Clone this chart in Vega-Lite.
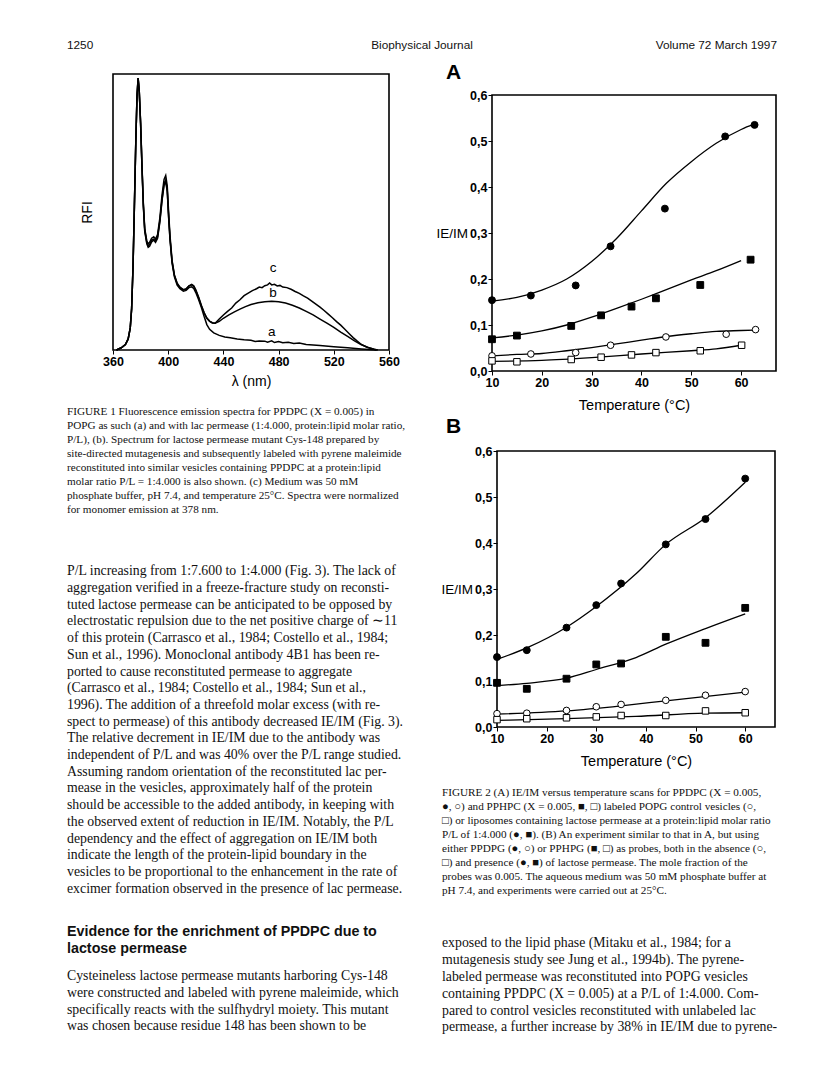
{
"$schema": "https://vega.github.io/schema/vega-lite/v6.json",
"background": "white",
"padding": {"left": 67, "top": 38, "right": 0, "bottom": 0},
"autosize": {"type": "pad"},
"config": {
  "view": {"stroke": null},
  "font": "Liberation Sans",
  "axis": {"grid": false, "domainColor": "#000", "tickColor": "#000", "labelColor": "#000", "titleColor": "#000", "labelFont": "Liberation Sans", "titleFont": "Liberation Sans", "titleFontWeight": "normal", "labelFlush": false, "labelOverlap": false},
  "text": {"color": "#111"}
},
"datasets": {
  "header": [
    {"slot": "left", "text": "1250"},
    {"slot": "center", "text": "Biophysical Journal"},
    {"slot": "right", "text": "Volume 72   March 1997"}
  ],
  "frame1": [{"x0": 360, "x1": 560, "y0": 0, "y1": 1}],
  "frame2": [{"x0": 10, "x1": 67, "y0": 0, "y1": 0.6}],
  "frame3": [{"x0": 10, "x1": 66, "y0": 0, "y1": 0.6}],
  "spectra": [
    {"curve":"a","nm":362.5,"rfi":0},{"curve":"a","nm":366,"rfi":0.008},{"curve":"a","nm":369,"rfi":0.02},{"curve":"a","nm":371,"rfi":0.04},{"curve":"a","nm":372.5,"rfi":0.08},{"curve":"a","nm":373.5,"rfi":0.15},{"curve":"a","nm":374.5,"rfi":0.3},{"curve":"a","nm":375.5,"rfi":0.52},{"curve":"a","nm":376.5,"rfi":0.75},{"curve":"a","nm":377.4,"rfi":0.92},{"curve":"a","nm":378.2,"rfi":0.985},{"curve":"a","nm":379,"rfi":0.94},{"curve":"a","nm":380,"rfi":0.82},{"curve":"a","nm":381,"rfi":0.66},{"curve":"a","nm":382,"rfi":0.52},{"curve":"a","nm":383,"rfi":0.43},{"curve":"a","nm":384.5,"rfi":0.385},{"curve":"a","nm":385.5,"rfi":0.372},{"curve":"a","nm":386.5,"rfi":0.376},{"curve":"a","nm":388,"rfi":0.392},{"curve":"a","nm":389.5,"rfi":0.398},{"curve":"a","nm":390.8,"rfi":0.39},{"curve":"a","nm":392.3,"rfi":0.405},{"curve":"a","nm":394,"rfi":0.465},{"curve":"a","nm":395.5,"rfi":0.54},{"curve":"a","nm":397,"rfi":0.597},{"curve":"a","nm":398.2,"rfi":0.61},{"curve":"a","nm":399.3,"rfi":0.575},{"curve":"a","nm":400.3,"rfi":0.48},{"curve":"a","nm":401.3,"rfi":0.4},{"curve":"a","nm":402.8,"rfi":0.315},{"curve":"a","nm":404.5,"rfi":0.265},{"curve":"a","nm":406.5,"rfi":0.235},{"curve":"a","nm":408.5,"rfi":0.222},{"curve":"a","nm":411,"rfi":0.213},{"curve":"a","nm":413,"rfi":0.216},{"curve":"a","nm":415,"rfi":0.226},{"curve":"a","nm":417,"rfi":0.229},{"curve":"a","nm":418.5,"rfi":0.223},{"curve":"a","nm":420,"rfi":0.208},{"curve":"a","nm":422,"rfi":0.183},{"curve":"a","nm":424,"rfi":0.155},{"curve":"a","nm":426,"rfi":0.122},{"curve":"a","nm":428,"rfi":0.092},{"curve":"a","nm":430,"rfi":0.075},{"curve":"a","nm":433,"rfi":0.062},{"curve":"a","nm":437,"rfi":0.053},{"curve":"a","nm":441,"rfi":0.047},{"curve":"a","nm":445,"rfi":0.044},{"curve":"a","nm":450,"rfi":0.04},{"curve":"a","nm":455,"rfi":0.037},{"curve":"a","nm":460,"rfi":0.035},{"curve":"a","nm":463,"rfi":0.031},{"curve":"a","nm":466,"rfi":0.033},{"curve":"a","nm":470,"rfi":0.032},{"curve":"a","nm":472,"rfi":0.028},{"curve":"a","nm":475,"rfi":0.033},{"curve":"a","nm":477,"rfi":0.027},{"curve":"a","nm":480,"rfi":0.031},{"curve":"a","nm":483,"rfi":0.026},{"curve":"a","nm":487,"rfi":0.028},{"curve":"a","nm":491,"rfi":0.024},{"curve":"a","nm":495,"rfi":0.025},{"curve":"a","nm":500,"rfi":0.02},{"curve":"a","nm":510,"rfi":0.016},{"curve":"a","nm":520,"rfi":0.012},{"curve":"a","nm":530,"rfi":0.008},{"curve":"a","nm":540,"rfi":0.004},{"curve":"a","nm":551,"rfi":0},
    {"curve":"b","nm":362.5,"rfi":0},{"curve":"b","nm":366,"rfi":0.008},{"curve":"b","nm":369,"rfi":0.02},{"curve":"b","nm":371,"rfi":0.04},{"curve":"b","nm":372.5,"rfi":0.08},{"curve":"b","nm":373.5,"rfi":0.15},{"curve":"b","nm":374.5,"rfi":0.3},{"curve":"b","nm":375.5,"rfi":0.52},{"curve":"b","nm":376.5,"rfi":0.75},{"curve":"b","nm":377.4,"rfi":0.92},{"curve":"b","nm":378.2,"rfi":0.985},{"curve":"b","nm":379,"rfi":0.94},{"curve":"b","nm":380,"rfi":0.82},{"curve":"b","nm":381,"rfi":0.665},{"curve":"b","nm":382,"rfi":0.525},{"curve":"b","nm":383,"rfi":0.435},{"curve":"b","nm":384.5,"rfi":0.39},{"curve":"b","nm":385.5,"rfi":0.378},{"curve":"b","nm":386.5,"rfi":0.382},{"curve":"b","nm":388,"rfi":0.398},{"curve":"b","nm":389.5,"rfi":0.402},{"curve":"b","nm":390.8,"rfi":0.396},{"curve":"b","nm":392.3,"rfi":0.41},{"curve":"b","nm":394,"rfi":0.47},{"curve":"b","nm":395.5,"rfi":0.545},{"curve":"b","nm":397,"rfi":0.603},{"curve":"b","nm":398.2,"rfi":0.615},{"curve":"b","nm":399.3,"rfi":0.58},{"curve":"b","nm":400.3,"rfi":0.485},{"curve":"b","nm":401.3,"rfi":0.405},{"curve":"b","nm":402.8,"rfi":0.32},{"curve":"b","nm":404.5,"rfi":0.27},{"curve":"b","nm":406.5,"rfi":0.24},{"curve":"b","nm":408.5,"rfi":0.226},{"curve":"b","nm":411,"rfi":0.218},{"curve":"b","nm":413,"rfi":0.222},{"curve":"b","nm":415,"rfi":0.232},{"curve":"b","nm":417,"rfi":0.236},{"curve":"b","nm":418.5,"rfi":0.23},{"curve":"b","nm":420,"rfi":0.215},{"curve":"b","nm":422,"rfi":0.19},{"curve":"b","nm":424,"rfi":0.16},{"curve":"b","nm":426,"rfi":0.135},{"curve":"b","nm":428,"rfi":0.115},{"curve":"b","nm":430,"rfi":0.104},{"curve":"b","nm":432,"rfi":0.098},{"curve":"b","nm":434,"rfi":0.097},{"curve":"b","nm":437,"rfi":0.104},{"curve":"b","nm":440,"rfi":0.115},{"curve":"b","nm":444,"rfi":0.127},{"curve":"b","nm":448,"rfi":0.138},{"curve":"b","nm":452,"rfi":0.148},{"curve":"b","nm":456,"rfi":0.157},{"curve":"b","nm":460,"rfi":0.165},{"curve":"b","nm":465,"rfi":0.171},{"curve":"b","nm":470,"rfi":0.175},{"curve":"b","nm":475,"rfi":0.177},{"curve":"b","nm":480,"rfi":0.175},{"curve":"b","nm":485,"rfi":0.17},{"curve":"b","nm":490,"rfi":0.162},{"curve":"b","nm":495,"rfi":0.152},{"curve":"b","nm":500,"rfi":0.14},{"curve":"b","nm":505,"rfi":0.127},{"curve":"b","nm":510,"rfi":0.112},{"curve":"b","nm":515,"rfi":0.097},{"curve":"b","nm":520,"rfi":0.082},{"curve":"b","nm":525,"rfi":0.065},{"curve":"b","nm":530,"rfi":0.049},{"curve":"b","nm":535,"rfi":0.033},{"curve":"b","nm":540,"rfi":0.019},{"curve":"b","nm":545,"rfi":0.009},{"curve":"b","nm":551,"rfi":0},
    {"curve":"c","nm":362.5,"rfi":0},{"curve":"c","nm":366,"rfi":0.008},{"curve":"c","nm":369,"rfi":0.02},{"curve":"c","nm":371,"rfi":0.04},{"curve":"c","nm":372.5,"rfi":0.08},{"curve":"c","nm":373.5,"rfi":0.15},{"curve":"c","nm":374.5,"rfi":0.3},{"curve":"c","nm":375.5,"rfi":0.52},{"curve":"c","nm":376.5,"rfi":0.75},{"curve":"c","nm":377.4,"rfi":0.92},{"curve":"c","nm":378.2,"rfi":0.985},{"curve":"c","nm":379,"rfi":0.94},{"curve":"c","nm":380,"rfi":0.825},{"curve":"c","nm":381,"rfi":0.67},{"curve":"c","nm":382,"rfi":0.53},{"curve":"c","nm":383,"rfi":0.44},{"curve":"c","nm":384.5,"rfi":0.395},{"curve":"c","nm":385.5,"rfi":0.385},{"curve":"c","nm":386.5,"rfi":0.39},{"curve":"c","nm":388,"rfi":0.405},{"curve":"c","nm":389.5,"rfi":0.41},{"curve":"c","nm":390.8,"rfi":0.402},{"curve":"c","nm":392.3,"rfi":0.418},{"curve":"c","nm":394,"rfi":0.48},{"curve":"c","nm":395.5,"rfi":0.56},{"curve":"c","nm":397,"rfi":0.618},{"curve":"c","nm":398.2,"rfi":0.632},{"curve":"c","nm":399.3,"rfi":0.595},{"curve":"c","nm":400.3,"rfi":0.5},{"curve":"c","nm":401.3,"rfi":0.415},{"curve":"c","nm":402.8,"rfi":0.325},{"curve":"c","nm":404.5,"rfi":0.272},{"curve":"c","nm":406.5,"rfi":0.242},{"curve":"c","nm":408.5,"rfi":0.228},{"curve":"c","nm":411,"rfi":0.219},{"curve":"c","nm":413,"rfi":0.22},{"curve":"c","nm":415,"rfi":0.232},{"curve":"c","nm":417,"rfi":0.238},{"curve":"c","nm":418.5,"rfi":0.233},{"curve":"c","nm":420,"rfi":0.218},{"curve":"c","nm":422,"rfi":0.192},{"curve":"c","nm":424,"rfi":0.162},{"curve":"c","nm":426,"rfi":0.136},{"curve":"c","nm":428,"rfi":0.116},{"curve":"c","nm":430,"rfi":0.105},{"curve":"c","nm":432,"rfi":0.099},{"curve":"c","nm":434,"rfi":0.097},{"curve":"c","nm":437,"rfi":0.112},{"curve":"c","nm":440,"rfi":0.127},{"curve":"c","nm":443,"rfi":0.14},{"curve":"c","nm":446,"rfi":0.152},{"curve":"c","nm":449,"rfi":0.17},{"curve":"c","nm":452,"rfi":0.182},{"curve":"c","nm":455,"rfi":0.197},{"curve":"c","nm":458,"rfi":0.206},{"curve":"c","nm":461,"rfi":0.215},{"curve":"c","nm":464,"rfi":0.222},{"curve":"c","nm":466,"rfi":0.228},{"curve":"c","nm":468,"rfi":0.226},{"curve":"c","nm":470,"rfi":0.233},{"curve":"c","nm":472,"rfi":0.236},{"curve":"c","nm":473.5,"rfi":0.243},{"curve":"c","nm":475,"rfi":0.236},{"curve":"c","nm":477,"rfi":0.238},{"curve":"c","nm":479,"rfi":0.232},{"curve":"c","nm":481,"rfi":0.234},{"curve":"c","nm":483,"rfi":0.228},{"curve":"c","nm":486,"rfi":0.226},{"curve":"c","nm":489,"rfi":0.22},{"curve":"c","nm":492,"rfi":0.212},{"curve":"c","nm":495,"rfi":0.205},{"curve":"c","nm":498,"rfi":0.196},{"curve":"c","nm":501,"rfi":0.188},{"curve":"c","nm":504,"rfi":0.177},{"curve":"c","nm":507,"rfi":0.166},{"curve":"c","nm":510,"rfi":0.155},{"curve":"c","nm":513,"rfi":0.143},{"curve":"c","nm":516,"rfi":0.13},{"curve":"c","nm":519,"rfi":0.117},{"curve":"c","nm":522,"rfi":0.103},{"curve":"c","nm":525,"rfi":0.09},{"curve":"c","nm":528,"rfi":0.075},{"curve":"c","nm":531,"rfi":0.06},{"curve":"c","nm":534,"rfi":0.045},{"curve":"c","nm":537,"rfi":0.032},{"curve":"c","nm":540,"rfi":0.02},{"curve":"c","nm":544,"rfi":0.01},{"curve":"c","nm":549,"rfi":0.003},{"curve":"c","nm":552,"rfi":0}
  ],
  "speclabels": [
    {"lab": "c", "nm": 476, "rfi": 0.297},
    {"lab": "b", "nm": 476, "rfi": 0.206},
    {"lab": "a", "nm": 475, "rfi": 0.067}
  ],
  "A_pts": [
    {"s":"fc","t":10,"v":0.154},{"s":"fc","t":17.8,"v":0.164},{"s":"fc","t":26.8,"v":0.186},{"s":"fc","t":33.8,"v":0.271},{"s":"fc","t":44.7,"v":0.353},{"s":"fc","t":56.8,"v":0.51},{"s":"fc","t":62.7,"v":0.535},
    {"s":"fs","t":10,"v":0.069},{"s":"fs","t":15,"v":0.077},{"s":"fs","t":25.9,"v":0.098},{"s":"fs","t":31.9,"v":0.121},{"s":"fs","t":38,"v":0.14},{"s":"fs","t":42.9,"v":0.158},{"s":"fs","t":51.8,"v":0.187},{"s":"fs","t":61.9,"v":0.242},
    {"s":"oc","t":10,"v":0.033},{"s":"oc","t":17.8,"v":0.037},{"s":"oc","t":26.8,"v":0.04},{"s":"oc","t":33.8,"v":0.056},{"s":"oc","t":44.9,"v":0.074},{"s":"oc","t":57,"v":0.08},{"s":"oc","t":62.9,"v":0.09},
    {"s":"os","t":10,"v":0.022},{"s":"os","t":15,"v":0.02},{"s":"os","t":25.9,"v":0.025},{"s":"os","t":31.9,"v":0.03},{"s":"os","t":38,"v":0.035},{"s":"os","t":42.9,"v":0.04},{"s":"os","t":51.8,"v":0.044},{"s":"os","t":60.1,"v":0.056}
  ],
  "A_fit": [
    {"s":"fc","t":10,"v":0.152},{"s":"fc","t":15,"v":0.16},{"s":"fc","t":20,"v":0.176},{"s":"fc","t":25,"v":0.2},{"s":"fc","t":30,"v":0.238},{"s":"fc","t":35,"v":0.288},{"s":"fc","t":40,"v":0.348},{"s":"fc","t":45,"v":0.408},{"s":"fc","t":50,"v":0.455},{"s":"fc","t":55,"v":0.495},{"s":"fc","t":60,"v":0.525},{"s":"fc","t":62.7,"v":0.537},
    {"s":"fs","t":10,"v":0.072},{"s":"fs","t":15,"v":0.078},{"s":"fs","t":20,"v":0.087},{"s":"fs","t":25,"v":0.1},{"s":"fs","t":30,"v":0.117},{"s":"fs","t":35,"v":0.136},{"s":"fs","t":40,"v":0.156},{"s":"fs","t":45,"v":0.177},{"s":"fs","t":50,"v":0.198},{"s":"fs","t":55,"v":0.218},{"s":"fs","t":60,"v":0.24},
    {"s":"oc","t":10,"v":0.033},{"s":"oc","t":15,"v":0.036},{"s":"oc","t":20,"v":0.038},{"s":"oc","t":25,"v":0.044},{"s":"oc","t":30,"v":0.051},{"s":"oc","t":35,"v":0.059},{"s":"oc","t":40,"v":0.067},{"s":"oc","t":45,"v":0.075},{"s":"oc","t":50,"v":0.081},{"s":"oc","t":55,"v":0.086},{"s":"oc","t":60,"v":0.088},{"s":"oc","t":62.7,"v":0.089},
    {"s":"os","t":10,"v":0.021},{"s":"os","t":20,"v":0.023},{"s":"os","t":30,"v":0.029},{"s":"os","t":40,"v":0.037},{"s":"os","t":50,"v":0.044},{"s":"os","t":55,"v":0.048},{"s":"os","t":60,"v":0.056}
  ],
  "B_pts": [
    {"s":"fc","t":10,"v":0.152},{"s":"fc","t":16,"v":0.167},{"s":"fc","t":24,"v":0.216},{"s":"fc","t":30,"v":0.265},{"s":"fc","t":35,"v":0.312},{"s":"fc","t":44,"v":0.397},{"s":"fc","t":52,"v":0.452},{"s":"fc","t":60,"v":0.54},
    {"s":"fs","t":10,"v":0.096},{"s":"fs","t":16,"v":0.083},{"s":"fs","t":24,"v":0.105},{"s":"fs","t":30,"v":0.136},{"s":"fs","t":35,"v":0.138},{"s":"fs","t":44,"v":0.196},{"s":"fs","t":52,"v":0.183},{"s":"fs","t":60,"v":0.259},
    {"s":"oc","t":10,"v":0.029},{"s":"oc","t":16,"v":0.03},{"s":"oc","t":24,"v":0.036},{"s":"oc","t":30,"v":0.044},{"s":"oc","t":35,"v":0.049},{"s":"oc","t":44,"v":0.058},{"s":"oc","t":52,"v":0.069},{"s":"oc","t":60,"v":0.077},
    {"s":"os","t":10,"v":0.016},{"s":"os","t":16,"v":0.018},{"s":"os","t":24,"v":0.02},{"s":"os","t":30,"v":0.022},{"s":"os","t":35,"v":0.025},{"s":"os","t":44,"v":0.025},{"s":"os","t":52,"v":0.035},{"s":"os","t":60,"v":0.031}
  ],
  "B_fit": [
    {"s":"fc","t":10,"v":0.147},{"s":"fc","t":16,"v":0.172},{"s":"fc","t":24,"v":0.217},{"s":"fc","t":30,"v":0.262},{"s":"fc","t":38,"v":0.333},{"s":"fc","t":44,"v":0.397},{"s":"fc","t":52,"v":0.455},{"s":"fc","t":60,"v":0.532},
    {"s":"fs","t":10,"v":0.09},{"s":"fs","t":16,"v":0.095},{"s":"fs","t":24,"v":0.106},{"s":"fs","t":30,"v":0.125},{"s":"fs","t":38,"v":0.151},{"s":"fs","t":44,"v":0.18},{"s":"fs","t":52,"v":0.214},{"s":"fs","t":60,"v":0.246},
    {"s":"oc","t":10,"v":0.028},{"s":"oc","t":24,"v":0.035},{"s":"oc","t":35,"v":0.046},{"s":"oc","t":44,"v":0.057},{"s":"oc","t":60,"v":0.076},
    {"s":"os","t":10,"v":0.0145},{"s":"os","t":24,"v":0.018},{"s":"os","t":38,"v":0.023},{"s":"os","t":52,"v":0.03},{"s":"os","t":60,"v":0.031}
  ],
  "cap1": [
    {"line":0,"text":"FIGURE 1    Fluorescence emission spectra for PPDPC (X = 0.005) in"},
    {"line":1,"text":"POPG as such (a) and with lac permease (1:4.000, protein:lipid molar ratio,"},
    {"line":2,"text":"P/L), (b). Spectrum for lactose permease mutant Cys-148 prepared by"},
    {"line":3,"text":"site-directed mutagenesis and subsequently labeled with pyrene maleimide"},
    {"line":4,"text":"reconstituted into similar vesicles containing PPDPC at a protein:lipid"},
    {"line":5,"text":"molar ratio P/L = 1:4.000 is also shown. (c) Medium was 50 mM"},
    {"line":6,"text":"phosphate buffer, pH 7.4, and temperature 25°C. Spectra were normalized"},
    {"line":7,"text":"for monomer emission at 378 nm."}
  ],
  "body1": [
    {"line":0,"text":"P/L increasing from 1:7.600 to 1:4.000 (Fig. 3). The lack of"},
    {"line":1,"text":"aggregation verified in a freeze-fracture study on reconsti-"},
    {"line":2,"text":"tuted lactose permease can be anticipated to be opposed by"},
    {"line":3,"text":"electrostatic repulsion due to the net positive charge of ∼11"},
    {"line":4,"text":"of this protein (Carrasco et al., 1984; Costello et al., 1984;"},
    {"line":5,"text":"Sun et al., 1996). Monoclonal antibody 4B1 has been re-"},
    {"line":6,"text":"ported to cause reconstituted permease to aggregate"},
    {"line":7,"text":"(Carrasco et al., 1984; Costello et al., 1984; Sun et al.,"},
    {"line":8,"text":"1996). The addition of a threefold molar excess (with re-"},
    {"line":9,"text":"spect to permease) of this antibody decreased IE/IM (Fig. 3)."},
    {"line":10,"text":"The relative decrement in IE/IM due to the antibody was"},
    {"line":11,"text":"independent of P/L and was 40% over the P/L range studied."},
    {"line":12,"text":"Assuming random orientation of the reconstituted lac per-"},
    {"line":13,"text":"mease in the vesicles, approximately half of the protein"},
    {"line":14,"text":"should be accessible to the added antibody, in keeping with"},
    {"line":15,"text":"the observed extent of reduction in IE/IM. Notably, the P/L"},
    {"line":16,"text":"dependency and the effect of aggregation on IE/IM both"},
    {"line":17,"text":"indicate the length of the protein-lipid boundary in the"},
    {"line":18,"text":"vesicles to be proportional to the enhancement in the rate of"},
    {"line":19,"text":"excimer formation observed in the presence of lac permease."}
  ],
  "heading": [
    {"line":0,"text":"Evidence for the enrichment of PPDPC due to"},
    {"line":1,"text":"lactose permease"}
  ],
  "body2": [
    {"line":0,"text":"Cysteineless lactose permease mutants harboring Cys-148"},
    {"line":1,"text":"were constructed and labeled with pyrene maleimide, which"},
    {"line":2,"text":"specifically reacts with the sulfhydryl moiety. This mutant"},
    {"line":3,"text":"was chosen because residue 148 has been shown to be"}
  ],
  "cap2": [
    {"line":0,"text":"FIGURE 2    (A) IE/IM versus temperature scans for PPDPC (X = 0.005,"},
    {"line":1,"text":"●, ○) and PPHPC (X = 0.005, ■, □) labeled POPG control vesicles (○,"},
    {"line":2,"text":"□) or liposomes containing lactose permease at a protein:lipid molar ratio"},
    {"line":3,"text":"P/L of 1:4.000 (●, ■). (B) An experiment similar to that in A, but using"},
    {"line":4,"text":"either PPDPG (●, ○) or PPHPG (■, □) as probes, both in the absence (○,"},
    {"line":5,"text":"□) and presence (●, ■) of lactose permease. The mole fraction of the"},
    {"line":6,"text":"probes was 0.005. The aqueous medium was 50 mM phosphate buffer at"},
    {"line":7,"text":"pH 7.4, and experiments were carried out at 25°C."}
  ],
  "body3": [
    {"line":0,"text":"exposed to the lipid phase (Mitaku et al., 1984; for a"},
    {"line":1,"text":"mutagenesis study see Jung et al., 1994b). The pyrene-"},
    {"line":2,"text":"labeled permease was reconstituted into POPG vesicles"},
    {"line":3,"text":"containing PPDPC (X = 0.005) at a P/L of 1:4.000. Com-"},
    {"line":4,"text":"pared to control vesicles reconstituted with unlabeled lac"},
    {"line":5,"text":"permease, a further increase by 38% in IE/IM due to pyrene-"}
  ]
},
"spacing": 0,
"vconcat": [
  {
    "width": 710, "height": 14,
    "data": {"name": "header"},
    "encoding": {
      "x": {"field": "slot", "type": "nominal", "axis": null, "scale": {"type": "point", "domain": ["left", "center", "right"], "padding": 0}},
      "text": {"field": "text"}
    },
    "layer": [
      {"transform": [{"filter": "datum.slot === 'left'"}], "mark": {"type": "text", "align": "left", "baseline": "middle", "font": "Liberation Sans", "fontSize": 11.8}},
      {"transform": [{"filter": "datum.slot === 'center'"}], "mark": {"type": "text", "align": "center", "baseline": "middle", "font": "Liberation Sans", "fontSize": 11.8}},
      {"transform": [{"filter": "datum.slot === 'right'"}], "mark": {"type": "text", "align": "right", "baseline": "middle", "font": "Liberation Sans", "fontSize": 11.8}}
    ]
  },
  {
    "spacing": 24,
    "hconcat": [
      {
        "bounds": "flush",
        "spacing": 0,
        "vconcat": [
          {"width": 345, "height": 22, "data": {"values": [{"t": ""}]}, "mark": {"type": "text"}, "encoding": {"text": {"field": "t"}}},
          {
            "width": 345, "height": 276,
            "layer": [
              {
                "data": {"name": "spectra"},
                "mark": {"type": "line", "color": "#000", "strokeWidth": 1.5},
                "encoding": {
                  "x": {"field": "nm", "type": "quantitative", "scale": {"domain": [360, 560], "range": [46, 322], "nice": false, "zero": false},
                    "axis": {"title": "λ (nm)", "domain": false, "values": [360, 380, 400, 420, 440, 460, 480, 500, 520, 540, 560], "labelExpr": "datum.value % 40 == 0 ? datum.value : ''", "labelFontWeight": "bold", "labelFontSize": 12.5, "tickSize": 4, "labelPadding": 1, "titleFontSize": 14, "titlePadding": 7}},
                  "y": {"field": "rfi", "type": "quantitative", "scale": {"domain": [0, 1], "nice": false},
                    "axis": {"title": "RFI", "offset": -46, "labels": false, "ticks": false, "domain": false, "titleFontSize": 14, "titlePadding": 19}},
                  "detail": {"field": "curve"}
                }
              },
              {
                "data": {"name": "frame1"},
                "mark": {"type": "rect", "filled": false, "stroke": "#000", "strokeWidth": 1.6},
                "encoding": {
                  "x": {"field": "x0", "type": "quantitative"}, "x2": {"field": "x1"},
                  "y": {"field": "y0", "type": "quantitative"}, "y2": {"field": "y1"}
                }
              },
              {
                "data": {"name": "speclabels"},
                "mark": {"type": "text", "fontSize": 13.5, "font": "Liberation Sans", "color": "#000"},
                "encoding": {
                  "x": {"field": "nm", "type": "quantitative"},
                  "y": {"field": "rfi", "type": "quantitative"},
                  "text": {"field": "lab"}
                }
              }
            ]
          },
          {"width": 345, "height": 55, "data": {"values": [{"t": ""}]}, "mark": {"type": "text"}, "encoding": {"text": {"field": "t"}}},
          {
            "width": 345, "height": 112,
            "data": {"name": "cap1"},
            "mark": {"type": "text", "align": "left", "baseline": "middle", "font": "Liberation Serif", "fontSize": 11.2},
            "encoding": {
              "x": {"datum": 0, "type": "quantitative", "scale": {"domain": [0, 1]}, "axis": null},
              "y": {"field": "line", "type": "ordinal", "axis": null, "scale": {"type": "band", "paddingInner": 0, "paddingOuter": 0}},
              "text": {"field": "text"}
            }
          },
          {"width": 345, "height": 45.6, "data": {"values": [{"t": ""}]}, "mark": {"type": "text"}, "encoding": {"text": {"field": "t"}}},
          {
            "width": 345, "height": 334,
            "data": {"name": "body1"},
            "mark": {"type": "text", "align": "left", "baseline": "middle", "font": "Liberation Serif", "fontSize": 13.8},
            "encoding": {
              "x": {"datum": 0, "type": "quantitative", "scale": {"domain": [0, 1]}, "axis": null},
              "y": {"field": "line", "type": "ordinal", "axis": null, "scale": {"type": "band", "paddingInner": 0, "paddingOuter": 0}},
              "text": {"field": "text"}
            }
          },
          {"width": 345, "height": 25.9, "data": {"values": [{"t": ""}]}, "mark": {"type": "text"}, "encoding": {"text": {"field": "t"}}},
          {
            "width": 345, "height": 34,
            "data": {"name": "heading"},
            "mark": {"type": "text", "align": "left", "baseline": "middle", "font": "Liberation Sans", "fontSize": 14.3, "fontWeight": "bold"},
            "encoding": {
              "x": {"datum": 0, "type": "quantitative", "scale": {"domain": [0, 1]}, "axis": null},
              "y": {"field": "line", "type": "ordinal", "axis": null, "scale": {"type": "band", "paddingInner": 0, "paddingOuter": 0}},
              "text": {"field": "text"}
            }
          },
          {"width": 345, "height": 10.2, "data": {"values": [{"t": ""}]}, "mark": {"type": "text"}, "encoding": {"text": {"field": "t"}}},
          {
            "width": 345, "height": 66.8,
            "data": {"name": "body2"},
            "mark": {"type": "text", "align": "left", "baseline": "middle", "font": "Liberation Serif", "fontSize": 13.8},
            "encoding": {
              "x": {"datum": 0, "type": "quantitative", "scale": {"domain": [0, 1]}, "axis": null},
              "y": {"field": "line", "type": "ordinal", "axis": null, "scale": {"type": "band", "paddingInner": 0, "paddingOuter": 0}},
              "text": {"field": "text"}
            }
          }
        ]
      },
      {
        "bounds": "flush",
        "spacing": 0,
        "vconcat": [
          {"width": 341, "height": 43, "data": {"values": [{"t": ""}]}, "mark": {"type": "text"}, "encoding": {"text": {"field": "t"}}},
          {
            "width": 341, "height": 276,
            "title": {"text": "A", "anchor": "start", "frame": "group", "dx": 4, "offset": 6, "fontSize": 21, "fontWeight": "bold", "font": "Liberation Sans", "color": "#000"},
            "layer": [
              {
                "data": {"name": "A_fit"},
                "mark": {"type": "line", "color": "#000", "strokeWidth": 1.3, "interpolate": "monotone"},
                "encoding": {
                  "x": {"field": "t", "type": "quantitative", "scale": {"domain": [10, 67], "range": [50, 334], "nice": false, "zero": false},
                    "axis": {"title": "Temperature (°C)", "domain": false, "values": [10, 15, 20, 25, 30, 35, 40, 45, 50, 55, 60, 65], "labelExpr": "datum.value % 10 == 0 ? datum.value : ''", "labelFontWeight": "bold", "labelFontSize": 12.5, "tickSize": 4, "labelPadding": 1, "titleFontSize": 14.5, "titlePadding": 10}},
                  "y": {"field": "v", "type": "quantitative", "scale": {"domain": [0, 0.6], "nice": false},
                    "axis": {"title": "IE/IM", "offset": -50, "domain": false, "values": [0, 0.05, 0.1, 0.15, 0.2, 0.25, 0.3, 0.35, 0.4, 0.45, 0.5, 0.55, 0.6], "labelExpr": "(round(datum.value*100) % 10 == 0) ? replace(format(datum.value, '.1f'), '.', ',') : ''", "labelFontWeight": "bold", "labelFontSize": 12.5, "tickSize": 4, "labelPadding": 1, "titleAngle": 0, "titleAlign": "right", "titleBaseline": "middle", "titleFontSize": 13.5, "titlePadding": 2}},
                  "detail": {"field": "s"}
                }
              },
              {
                "data": {"name": "frame2"},
                "mark": {"type": "rect", "filled": false, "stroke": "#000", "strokeWidth": 1.6},
                "encoding": {
                  "x": {"field": "x0", "type": "quantitative"}, "x2": {"field": "x1"},
                  "y": {"field": "y0", "type": "quantitative"}, "y2": {"field": "y1"}
                }
              },
              {
                "data": {"name": "A_pts"},
                "mark": {"type": "point", "filled": true, "stroke": "#000", "strokeWidth": 1, "opacity": 1},
                "encoding": {
                  "x": {"field": "t", "type": "quantitative"},
                  "y": {"field": "v", "type": "quantitative"},
                  "shape": {"field": "s", "type": "nominal", "scale": {"domain": ["fc", "fs", "oc", "os"], "range": ["circle", "square", "circle", "square"]}, "legend": null},
                  "fill": {"field": "s", "type": "nominal", "scale": {"domain": ["fc", "fs", "oc", "os"], "range": ["#000", "#000", "#fff", "#fff"]}, "legend": null},
                  "size": {"field": "s", "type": "ordinal", "scale": {"domain": ["fc", "fs", "oc", "os"], "range": [48, 42, 36, 28]}, "legend": null}
                }
              }
            ]
          },
          {"width": 341, "height": 80, "data": {"values": [{"t": ""}]}, "mark": {"type": "text"}, "encoding": {"text": {"field": "t"}}},
          {
            "width": 341, "height": 276,
            "title": {"text": "B", "anchor": "start", "frame": "group", "dx": 4, "offset": 8, "fontSize": 21, "fontWeight": "bold", "font": "Liberation Sans", "color": "#000"},
            "layer": [
              {
                "data": {"name": "B_fit"},
                "mark": {"type": "line", "color": "#000", "strokeWidth": 1.3, "interpolate": "monotone"},
                "encoding": {
                  "x": {"field": "t", "type": "quantitative", "scale": {"domain": [10, 66], "range": [55, 333], "nice": false, "zero": false},
                    "axis": {"title": "Temperature (°C)", "domain": false, "values": [10, 15, 20, 25, 30, 35, 40, 45, 50, 55, 60, 65], "labelExpr": "datum.value % 10 == 0 ? datum.value : ''", "labelFontWeight": "bold", "labelFontSize": 12.5, "tickSize": 4, "labelPadding": 1, "titleFontSize": 14.5, "titlePadding": 10}},
                  "y": {"field": "v", "type": "quantitative", "scale": {"domain": [0, 0.6], "nice": false},
                    "axis": {"title": "IE/IM", "offset": -55, "domain": false, "values": [0, 0.05, 0.1, 0.15, 0.2, 0.25, 0.3, 0.35, 0.4, 0.45, 0.5, 0.55, 0.6], "labelExpr": "(round(datum.value*100) % 10 == 0) ? replace(format(datum.value, '.1f'), '.', ',') : ''", "labelFontWeight": "bold", "labelFontSize": 12.5, "tickSize": 4, "labelPadding": 1, "titleAngle": 0, "titleAlign": "right", "titleBaseline": "middle", "titleFontSize": 13.5, "titlePadding": 2}},
                  "detail": {"field": "s"}
                }
              },
              {
                "data": {"name": "frame3"},
                "mark": {"type": "rect", "filled": false, "stroke": "#000", "strokeWidth": 1.6},
                "encoding": {
                  "x": {"field": "x0", "type": "quantitative"}, "x2": {"field": "x1"},
                  "y": {"field": "y0", "type": "quantitative"}, "y2": {"field": "y1"}
                }
              },
              {
                "data": {"name": "B_pts"},
                "mark": {"type": "point", "filled": true, "stroke": "#000", "strokeWidth": 1, "opacity": 1},
                "encoding": {
                  "x": {"field": "t", "type": "quantitative"},
                  "y": {"field": "v", "type": "quantitative"},
                  "shape": {"field": "s", "type": "nominal", "scale": {"domain": ["fc", "fs", "oc", "os"], "range": ["circle", "square", "circle", "square"]}, "legend": null},
                  "fill": {"field": "s", "type": "nominal", "scale": {"domain": ["fc", "fs", "oc", "os"], "range": ["#000", "#000", "#fff", "#fff"]}, "legend": null},
                  "size": {"field": "s", "type": "ordinal", "scale": {"domain": ["fc", "fs", "oc", "os"], "range": [48, 42, 36, 28]}, "legend": null}
                }
              }
            ]
          },
          {"width": 341, "height": 59, "data": {"values": [{"t": ""}]}, "mark": {"type": "text"}, "encoding": {"text": {"field": "t"}}},
          {
            "width": 341, "height": 112,
            "data": {"name": "cap2"},
            "mark": {"type": "text", "align": "left", "baseline": "middle", "font": "Liberation Serif", "fontSize": 11.2},
            "encoding": {
              "x": {"datum": 0, "type": "quantitative", "scale": {"domain": [0, 1]}, "axis": null},
              "y": {"field": "line", "type": "ordinal", "axis": null, "scale": {"type": "band", "paddingInner": 0, "paddingOuter": 0}},
              "text": {"field": "text"}
            }
          },
          {"width": 341, "height": 36.6, "data": {"values": [{"t": ""}]}, "mark": {"type": "text"}, "encoding": {"text": {"field": "t"}}},
          {
            "width": 341, "height": 100.8,
            "data": {"name": "body3"},
            "mark": {"type": "text", "align": "left", "baseline": "middle", "font": "Liberation Serif", "fontSize": 13.8},
            "encoding": {
              "x": {"datum": 0, "type": "quantitative", "scale": {"domain": [0, 1]}, "axis": null},
              "y": {"field": "line", "type": "ordinal", "axis": null, "scale": {"type": "band", "paddingInner": 0, "paddingOuter": 0}},
              "text": {"field": "text"}
            }
          }
        ]
      }
    ]
  }
]
}
